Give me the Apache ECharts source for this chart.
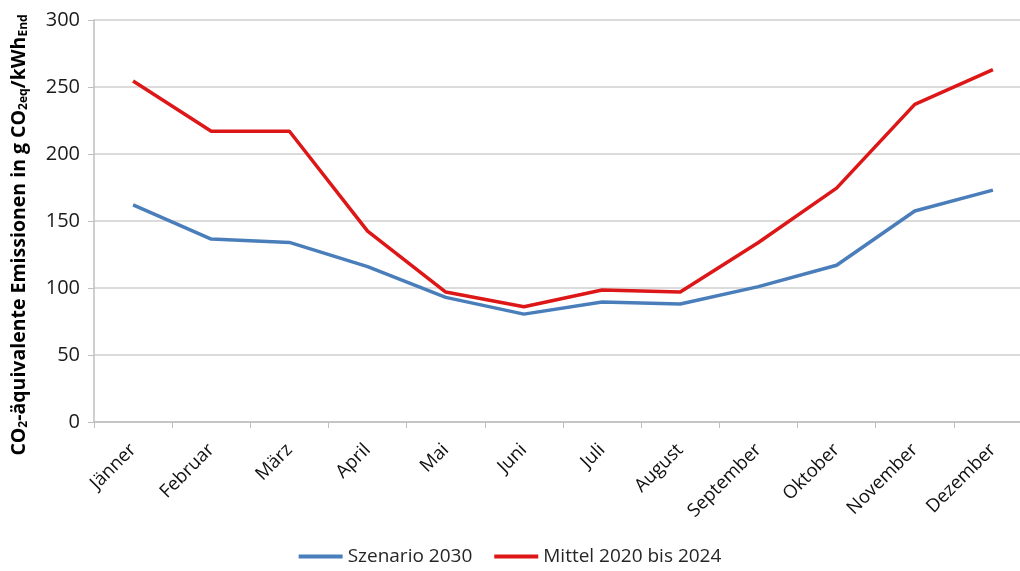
<!DOCTYPE html>
<html>
<head>
<meta charset="utf-8">
<script src="https://cdn.jsdelivr.net/npm/echarts@6/dist/echarts.min.js"></script>
<style>
  html, body { margin: 0; padding: 0; background: #fff; }
  #chart { width: 1020px; height: 571px; }
</style>
</head>
<body>
<div id="chart"></div>
<script>
const months = ['Jänner', 'Februar', 'März', 'April', 'Mai', 'Juni', 'Juli', 'August', 'September', 'Oktober', 'November', 'Dezember'];
const szenario2030 = [162, 136.5, 134, 116, 93, 80.5, 89.5, 88, 101, 117, 157.5, 173];
const mittel2020bis2024 = [254.5, 217, 217, 142.5, 97, 86, 98.5, 97, 134, 174.5, 237, 263];
const yTicks = [0, 50, 100, 150, 200, 250, 300];

const chart = echarts.init(document.getElementById('chart'));
const font = '"Open Sans", "Noto Sans", sans-serif';

chart.setOption({
  animation: false,
  textStyle: { fontFamily: font },
  grid: { left: 94, width: 938, top: 20, height: 402, containLabel: false, outerBoundsMode: 'none' },
  legend: {
    bottom: 0,
    left: 'center',
    itemWidth: 44,
    itemHeight: 4,
    itemGap: 22,
    icon: 'rect',
    textStyle: { fontSize: 19, color: '#262626', fontFamily: font },
    data: ['Szenario 2030', 'Mittel 2020 bis 2024']
  },
  xAxis: {
    type: 'category',
    data: months,
    boundaryGap: true,
    axisLine: { lineStyle: { color: '#bfbfbf', width: 1.5 } },
    axisTick: { show: true, length: 6, lineStyle: { color: '#bfbfbf' } },
    axisLabel: { rotate: 45, fontSize: 18.5, color: '#111', margin: 25, interval: 0, fontFamily: font }
  },
  yAxis: {
    type: 'value',
    min: yTicks[0],
    max: yTicks[yTicks.length - 1],
    interval: 50,
    name: '{b|CO}{s|2}{b|-äquivalente Emissionen in g CO}{s|2eq}{b|/kWh}{s|End}',
    nameLocation: 'middle',
    nameGap: 64,
    nameRotate: 90,
    nameTextStyle: {
      padding: [0, 28, 0, 0],
      rich: {
        b: { fontSize: 19.5, fontWeight: 'bold', color: '#000', fontFamily: font },
        s: { fontSize: 12, fontWeight: 'bold', color: '#000', fontFamily: font, verticalAlign: 'bottom', padding: [9, 0, 0, 0] }
      }
    },
    axisLine: { show: true, lineStyle: { color: '#bfbfbf', width: 1.5 } },
    axisTick: { show: true, length: 6, lineStyle: { color: '#bfbfbf' } },
    axisLabel: { fontSize: 20, color: '#1a1a1a', margin: 14, fontFamily: font },
    splitLine: { lineStyle: { color: '#cfcfcf', width: 1.5 } }
  },
  series: [
    {
      name: 'Szenario 2030',
      type: 'line',
      data: szenario2030,
      symbol: 'none',
      color: '#4a7ebb',
      lineStyle: { width: 3.5, color: '#4a7ebb' }
    },
    {
      name: 'Mittel 2020 bis 2024',
      type: 'line',
      data: mittel2020bis2024,
      symbol: 'none',
      color: '#dd1717',
      lineStyle: { width: 3.5, color: '#dd1717' }
    }
  ]
});
</script>
</body>
</html>
